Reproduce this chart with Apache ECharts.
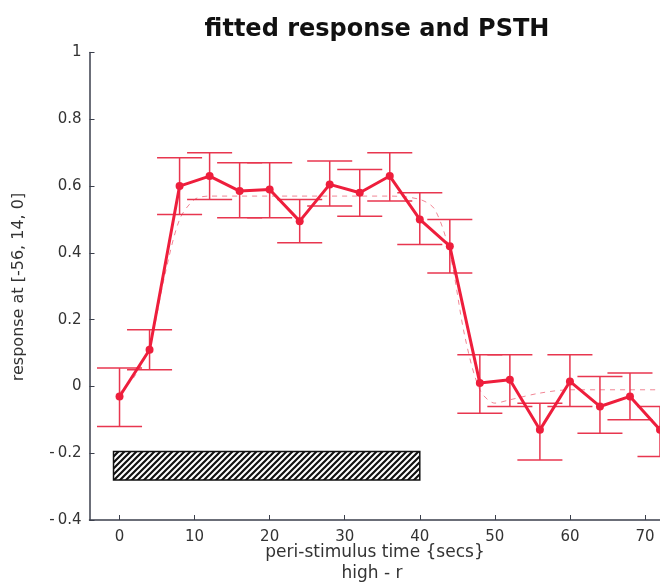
<!DOCTYPE html>
<html>
<head>
<meta charset="utf-8">
<script src="https://cdn.jsdelivr.net/npm/echarts@6/dist/echarts.min.js"></script>
<style>
html,body{margin:0;padding:0;background:#fff;}
#c{width:660px;height:585px;}
</style>
</head>
<body>
<div id="c"></div>
<script>
// ---- data ----
var times   = [0, 4, 8, 12, 16, 20, 24, 28, 32, 36, 40, 44, 48, 52, 56, 60, 64, 68, 72];
var means   = [-0.03, 0.11, 0.60, 0.63, 0.585, 0.59, 0.495, 0.605, 0.58, 0.63, 0.50, 0.42, 0.01, 0.02, -0.13, 0.015, -0.06, -0.03, -0.13];
var errHigh = [0.055, 0.17, 0.685, 0.70, 0.67, 0.67, 0.56, 0.675, 0.65, 0.70, 0.58, 0.50, 0.095, 0.095, -0.05, 0.095, 0.03, 0.04, -0.06];
var errLow  = [-0.12, 0.05, 0.515, 0.56, 0.505, 0.505, 0.43, 0.54, 0.51, 0.555, 0.425, 0.34, -0.08, -0.06, -0.22, -0.06, -0.14, -0.10, -0.21];
var fitTimes  = [0, 2, 4, 6, 8, 10, 12, 16, 20, 24, 28, 32, 36, 40, 42, 44, 46, 48, 50, 52, 56, 60, 64, 68, 72];
var fitValues = [-0.02, 0.03, 0.12, 0.33, 0.50, 0.56, 0.57, 0.57, 0.57, 0.57, 0.57, 0.57, 0.57, 0.56, 0.53, 0.40, 0.15, -0.01, -0.05, -0.04, -0.02, -0.01, -0.01, -0.01, -0.01];
var stimulus  = [[-0.8, 40, -0.195, -0.28]]; // [start, end, top, bottom]
var xTicks = [0, 10, 20, 30, 40, 50, 60, 70];
var titleText = 'fitted response and PSTH';
var yName = 'response at [-56, 14, 0]';
var xName1 = 'peri-stimulus time {secs}';
var xName2 = 'high - r';

// hatch pattern
var pc = document.createElement('canvas');
var s = 6;
pc.width = s; pc.height = s;
var g = pc.getContext('2d');
g.fillStyle = '#fff'; g.fillRect(0, 0, s, s);
g.strokeStyle = '#111'; g.lineWidth = 2.2;
g.beginPath();
g.moveTo(0, s); g.lineTo(s, 0);
g.moveTo(-1, 1); g.lineTo(1, -1);
g.moveTo(s - 1, s + 1); g.lineTo(s + 1, s - 1);
g.stroke();

var red = '#ee1e3c';
var barRed = '#e8364f';
var axisCol = '#3b3f4c';
var font = 'DejaVu Sans, sans-serif';

var lineData = times.map(function (t, i) { return [t, means[i]]; });
var errData = times.map(function (t, i) { return [t, errLow[i], errHigh[i]]; });
var fitData = fitTimes.map(function (t, i) { return [t, fitValues[i]]; });

var chart = echarts.init(document.getElementById('c'), null, {renderer: 'canvas'});
chart.setOption({
  animation: false,
  backgroundColor: '#fff',
  title: {
    text: titleText, left: 372, top: 13, textAlign: 'center',
    textStyle: {fontFamily: font, fontSize: 24, fontWeight: 'bold', color: '#111'}
  },
  grid: {left: 89.5, right: 0, top: 52.5, bottom: 65, containLabel: false},
  xAxis: {
    type: 'value', min: -4, max: 72,
    axisLine: {show: true, onZero: false, lineStyle: {color: axisCol, width: 1.5}},
    axisTick: {show: true, inside: true, length: 5, customValues: xTicks, lineStyle: {color: axisCol}},
    axisLabel: {customValues: xTicks, fontFamily: font, fontSize: 15, color: '#333', margin: 10},
    splitLine: {show: false}
  },
  yAxis: {
    type: 'value', min: -0.4, max: 1, interval: 0.2,
    axisLine: {show: true, onZero: false, lineStyle: {color: axisCol, width: 1.5}},
    axisTick: {show: true, inside: true, length: 5, lineStyle: {color: axisCol}},
    axisLabel: {fontFamily: font, fontSize: 15, color: '#333', margin: 8,
      formatter: function (v) { v = Math.round(v * 10) / 10; return v < 0 ? '-\u2009' + (-v) : String(v); }},
    splitLine: {show: false}
  },
  graphic: [
    {type: 'text', x: 19, y: 287, rotation: Math.PI / 2,
     style: {text: yName, font: '16px ' + font, fill: '#333', align: 'center', verticalAlign: 'middle'}},
    {type: 'text', x: 375, y: 553, style: {text: xName1, font: '17px ' + font, fill: '#333', align: 'center', verticalAlign: 'middle'}},
    {type: 'text', x: 372, y: 574, style: {text: xName2, font: '17px ' + font, fill: '#333', align: 'center', verticalAlign: 'middle'}}
  ],
  series: [
    {
      type: 'custom', name: 'stimulus', data: stimulus, z: 1, clip: false,
      renderItem: function (params, api) {
        var p0 = api.coord([api.value(0), api.value(2)]);
        var p1 = api.coord([api.value(1), api.value(3)]);
        return {type: 'rect', shape: {x: p0[0], y: p0[1], width: p1[0] - p0[0], height: p1[1] - p0[1]},
          style: {fill: {image: pc, repeat: 'repeat'}, stroke: '#111', lineWidth: 1.5}};
      }
    },
    {
      type: 'line', name: 'fit', data: fitData, smooth: 0.3, showSymbol: false, z: 2, clip: false,
      lineStyle: {color: barRed, width: 1, type: [5, 5], opacity: 0.6}
    },
    {
      type: 'custom', name: 'err', data: errData, z: 3, clip: false,
      renderItem: function (params, api) {
        var t = api.value(0);
        var lo = api.coord([t, api.value(1)]);
        var hi = api.coord([t, api.value(2)]);
        var l = api.coord([t - 3, 0])[0];
        var r = api.coord([t + 3, 0])[0];
        var st = {stroke: barRed, lineWidth: 1.5};
        return {type: 'group', children: [
          {type: 'line', shape: {x1: lo[0], y1: lo[1], x2: hi[0], y2: hi[1]}, style: st},
          {type: 'line', shape: {x1: l, y1: lo[1], x2: r, y2: lo[1]}, style: st},
          {type: 'line', shape: {x1: l, y1: hi[1], x2: r, y2: hi[1]}, style: st}
        ]};
      }
    },
    {
      type: 'line', name: 'PSTH', data: lineData, z: 4, clip: false,
      symbol: 'circle', symbolSize: 8, showSymbol: true,
      lineStyle: {color: red, width: 3},
      itemStyle: {color: red}
    }
  ]
});
</script>
</body>
</html>
